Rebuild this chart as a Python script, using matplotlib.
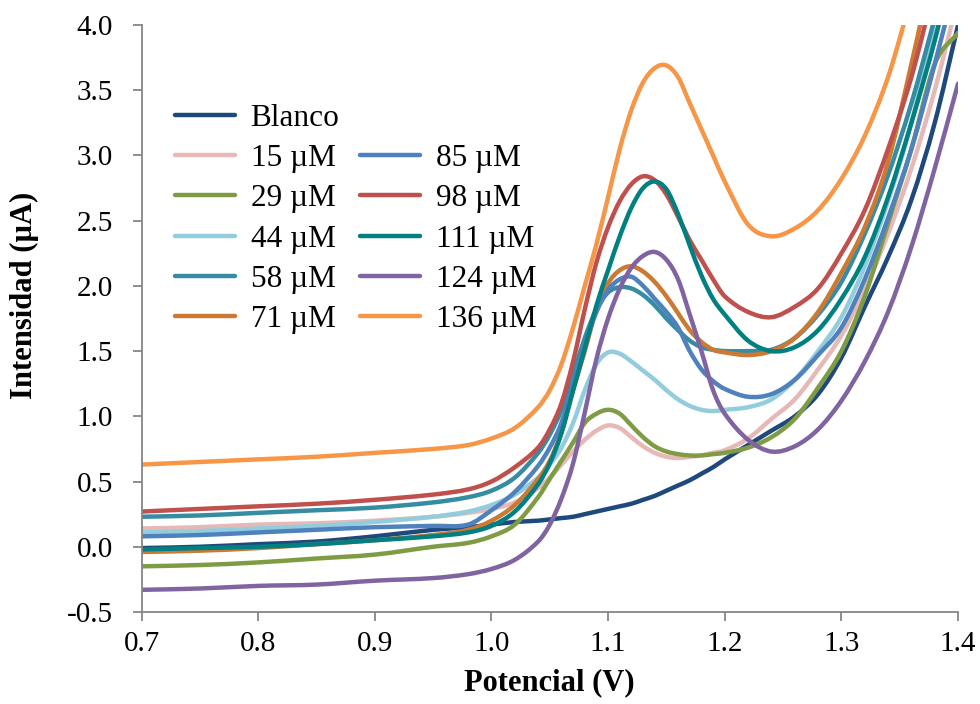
import matplotlib
matplotlib.use("Agg")
import matplotlib.pyplot as plt
from matplotlib.lines import Line2D
from matplotlib.path import Path
from matplotlib.patches import PathPatch

plt.rcParams['font.family'] = ['Liberation Serif', 'DejaVu Serif']

# potencial (V) -- shared x grid for every scan
potencial = [0.70, 0.75, 0.80, 0.85, 0.90, 0.95, 0.98, 1.00, 1.02, 1.04,
             1.05, 1.06, 1.07, 1.08, 1.09, 1.10, 1.11, 1.12, 1.13, 1.14,
             1.15, 1.16, 1.17, 1.18, 1.19, 1.20, 1.22, 1.24, 1.26, 1.28,
             1.30, 1.32, 1.34, 1.36, 1.38, 1.40]

# intensidad (uA) for each concentration
blanco = [-0.01, 0.00, 0.02, 0.04, 0.08, 0.13, 0.15, 0.17, 0.19, 0.20,
          0.21, 0.22, 0.23, 0.25, 0.27, 0.29, 0.31, 0.33, 0.36, 0.39,
          0.43, 0.47, 0.51, 0.56, 0.61, 0.67, 0.78, 0.89, 1.00, 1.17,
          1.45, 1.84, 2.22, 2.66, 3.25, 4.00]
um15 = [0.14, 0.15, 0.17, 0.18, 0.20, 0.23, 0.26, 0.29, 0.34, 0.45,
        0.53, 0.63, 0.73, 0.82, 0.89, 0.93, 0.91, 0.84, 0.77, 0.72,
        0.69, 0.68, 0.69, 0.70, 0.72, 0.74, 0.83, 0.98, 1.13, 1.36,
        1.62, 1.97, 2.40, 2.90, 3.50, 4.20]
um29 = [-0.15, -0.14, -0.12, -0.09, -0.06, 0.00, 0.03, 0.08, 0.17, 0.38,
        0.52, 0.66, 0.80, 0.95, 1.02, 1.05, 1.02, 0.93, 0.84, 0.77,
        0.73, 0.71, 0.70, 0.70, 0.71, 0.72, 0.76, 0.84, 0.98, 1.22,
        1.50, 1.92, 2.48, 3.05, 3.70, 3.94]
um44 = [0.11, 0.12, 0.14, 0.16, 0.19, 0.23, 0.27, 0.32, 0.40, 0.53,
        0.63, 0.76, 0.95, 1.20, 1.40, 1.49, 1.48, 1.42, 1.35, 1.28,
        1.20, 1.13, 1.08, 1.05, 1.04, 1.05, 1.07, 1.13, 1.28, 1.50,
        1.76, 2.15, 2.65, 3.25, 4.00, 4.70]
um58 = [0.23, 0.24, 0.26, 0.28, 0.30, 0.34, 0.38, 0.43, 0.53, 0.72,
        0.86, 1.05, 1.32, 1.60, 1.82, 1.95, 1.99, 1.98, 1.93, 1.85,
        1.75, 1.66, 1.58, 1.53, 1.51, 1.50, 1.50, 1.51, 1.60, 1.78,
        2.03, 2.40, 2.85, 3.40, 4.05, 4.70]
um71 = [-0.04, -0.03, -0.01, 0.02, 0.05, 0.09, 0.13, 0.20, 0.32, 0.52,
        0.66, 0.88, 1.20, 1.50, 1.82, 2.02, 2.12, 2.15, 2.11, 2.03,
        1.92, 1.79, 1.66, 1.57, 1.51, 1.49, 1.47, 1.50, 1.60, 1.80,
        2.10, 2.45, 2.95, 3.70, 4.50, 5.20]
um85 = [0.08, 0.09, 0.11, 0.13, 0.15, 0.16, 0.17, 0.28, 0.42, 0.62,
        0.76, 0.95, 1.25, 1.55, 1.80, 1.97, 2.05, 2.07, 2.00, 1.90,
        1.80, 1.68, 1.50, 1.36, 1.27, 1.21, 1.15, 1.17, 1.28, 1.47,
        1.68, 2.05, 2.52, 3.05, 3.70, 4.40]
um98 = [0.27, 0.29, 0.31, 0.33, 0.36, 0.40, 0.44, 0.50, 0.61, 0.76,
        0.90, 1.10, 1.42, 1.82, 2.18, 2.45, 2.65, 2.78, 2.84, 2.81,
        2.70, 2.53, 2.35, 2.20, 2.05, 1.92, 1.80, 1.76, 1.84, 1.98,
        2.25, 2.58, 3.05, 3.60, 4.30, 5.00]
um111 = [-0.02, -0.01, 0.00, 0.02, 0.05, 0.08, 0.11, 0.16, 0.27, 0.48,
         0.64, 0.87, 1.20, 1.52, 1.85, 2.12, 2.38, 2.60, 2.75, 2.80,
         2.74, 2.55, 2.31, 2.08, 1.90, 1.78, 1.58, 1.50, 1.53, 1.66,
         1.90, 2.22, 2.68, 3.25, 3.88, 4.60]
um124 = [-0.33, -0.32, -0.30, -0.29, -0.26, -0.24, -0.21, -0.17, -0.10, 0.04,
         0.17, 0.37, 0.64, 1.03, 1.44, 1.75, 1.98, 2.14, 2.23, 2.26,
         2.20, 2.05, 1.78, 1.50, 1.20, 1.02, 0.82, 0.73, 0.77, 0.90,
         1.12, 1.42, 1.80, 2.30, 2.90, 3.55]
um136 = [0.63, 0.65, 0.67, 0.69, 0.72, 0.75, 0.78, 0.83, 0.91, 1.07,
         1.20, 1.40, 1.68, 2.00, 2.32, 2.68, 3.05, 3.35, 3.56, 3.67,
         3.69, 3.60, 3.40, 3.20, 3.00, 2.80, 2.47, 2.38, 2.44, 2.58,
         2.82, 3.15, 3.60, 4.20, 4.70, 5.20]

labels = ['Blanco', '15 µM', '29 µM', '44 µM', '58 µM', '71 µM',
          '85 µM', '98 µM', '111 µM', '124 µM', '136 µM']
colors = ['#1f497d', '#e6b9b8', '#7f9c45', '#93cddd', '#358ca3', '#cc7a33',
          '#4f81bd', '#c0504d', '#008080', '#8064a2', '#f79646']
series = [blanco, um15, um29, um44, um58, um71, um85, um98, um111, um124, um136]

LW = 3.2


def smooth_path(x, y):
    # smoothed line like Excel: cubic Hermite segments through the points
    n = len(x)
    slopes = []
    for i in range(n):
        a = max(i - 1, 0)
        b = min(i + 1, n - 1)
        slopes.append((y[b] - y[a]) / (x[b] - x[a]))
    verts = [(x[0], y[0])]
    codes = [Path.MOVETO]
    for i in range(n - 1):
        h = x[i + 1] - x[i]
        verts += [(x[i] + h / 3, y[i] + slopes[i] * h / 3),
                  (x[i + 1] - h / 3, y[i + 1] - slopes[i + 1] * h / 3),
                  (x[i + 1], y[i + 1])]
        codes += [Path.CURVE4] * 3
    return Path(verts, codes)


fig = plt.figure(figsize=(9.8, 7.04), dpi=100)
ax = fig.add_axes([0.1444, 0.1307, 0.8332, 0.8338])

handles = []
for y, c, lab in zip(series, colors, labels):
    patch = PathPatch(smooth_path(potencial, y), facecolor='none', edgecolor=c,
                      lw=LW, capstyle='round', joinstyle='round')
    ax.add_patch(patch)
    handles.append(Line2D([], [], color=c, lw=LW, solid_capstyle='round'))

ax.set_xlim(0.7, 1.4)
ax.set_ylim(-0.5, 4.0)
ax.set_xticks([0.7, 0.8, 0.9, 1.0, 1.1, 1.2, 1.3, 1.4])
ax.set_xticklabels(['0.7', '0.8', '0.9', '1.0', '1.1', '1.2', '1.3', '1.4'])
ax.set_yticks([-0.5, 0.0, 0.5, 1.0, 1.5, 2.0, 2.5, 3.0, 3.5, 4.0])
ax.set_yticklabels(['-0.5', '0.0', '0.5', '1.0', '1.5', '2.0', '2.5',
                    '3.0', '3.5', '4.0'])

for s in ['top', 'right']:
    ax.spines[s].set_visible(False)
for s in ['left', 'bottom']:
    ax.spines[s].set_color('#868686')
    ax.spines[s].set_linewidth(1.3)
ax.tick_params(axis='both', direction='out', length=6.5, width=1.3,
               color='#868686', labelsize=21)
ax.tick_params(axis='y', pad=14)
ax.tick_params(axis='x', pad=7)

ax.set_xlabel('Potencial (V)', fontsize=22, fontweight='bold')
ax.set_ylabel('Intensidad (µA)', fontsize=22, fontweight='bold')
ax.xaxis.set_label_coords(0.5, -0.095)
ax.yaxis.set_label_coords(-0.125, 0.54)

blank = Line2D([], [], color='none')
order = handles[:6] + [blank] + handles[6:]
names = labels[:6] + [''] + labels[6:]
ax.legend(order, names, ncol=2, loc='upper left',
          bbox_to_anchor=(0.041, 0.865), frameon=False, fontsize=22.5,
          handlelength=1.92, handletextpad=0.5, columnspacing=0.66,
          labelspacing=0.355, borderpad=0, borderaxespad=0)

fig.savefig('out.png', dpi=100)
